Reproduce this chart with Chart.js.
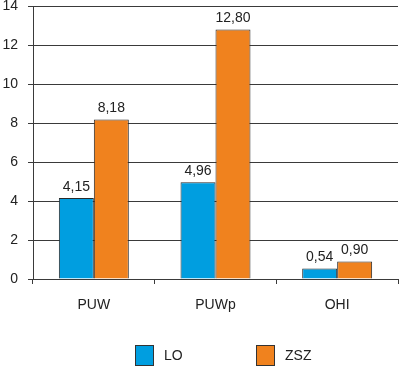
<!DOCTYPE html>
<html>
<head>
<meta charset="utf-8">
<script src="https://cdn.jsdelivr.net/npm/chart.js@4"></script>
<style>
  html, body { margin: 0; padding: 0; background: #fff; overflow: hidden; }
  #wrap { position: relative; width: 400px; height: 366px; }
  #barChart { display: block; }
  .leg { position: absolute; top: 345px; height: 20px; display: flex; align-items: center;
         font: 14px "Liberation Sans", Arial, sans-serif; color: #222; }
  .leg span.box { display: inline-block; width: 17px; height: 19px; border: 1px solid #333; margin-right: 10px; }
</style>
</head>
<body>
<div id="wrap">
  <canvas id="barChart" width="400" height="366"></canvas>
  <div class="leg" style="left:135px"><span class="box" style="background:#009EE0"></span>LO</div>
  <div class="leg" style="left:256px"><span class="box" style="background:#F0821E"></span>ZSZ</div>
</div>
<script>
// data
const categories = ['PUW', 'PUWp', 'OHI'];
const seriesNames = ['LO', 'ZSZ'];
const loValues = [4.15, 4.96, 0.54];
const zszValues = [8.18, 12.80, 0.90];
const yMax = 14;
const yStep = 2;

Chart.defaults.font.family = '"Liberation Sans", Arial, sans-serif';
Chart.defaults.font.size = 14;
Chart.defaults.color = '#222';

// horizontal grid lines, filled as 1px strips at each y tick
const plotGrid = {
    id: 'plotGrid',
    beforeDatasetsDraw(chart) {
        const { ctx, chartArea, scales } = chart;
        ctx.save();
        ctx.fillStyle = '#3a3a3a';
        scales.y.ticks.forEach(t => {
            const y = Math.round(scales.y.getPixelForValue(t.value));
            ctx.fillRect(chartArea.left, y, chartArea.right - chartArea.left, 1);
        });
        ctx.restore();
    }
};

// value labels above bars, comma decimals
const valueLabels = {
    id: 'valueLabels',
    afterDatasetsDraw(chart) {
        const ctx = chart.ctx;
        ctx.save();
        ctx.font = '14px "Liberation Sans", Arial, sans-serif';
        ctx.fillStyle = '#222';
        ctx.textAlign = 'center';
        ctx.textBaseline = 'bottom';
        chart.data.datasets.forEach((ds, i) => {
            chart.getDatasetMeta(i).data.forEach((bar, j) => {
                const txt = ds.data[j].toFixed(2).replace('.', ',');
                ctx.fillText(txt, bar.x, bar.y - 4);
            });
        });
        ctx.restore();
    }
};

new Chart(document.getElementById('barChart'), {
    type: 'bar',
    data: {
        labels: categories,
        datasets: [{
            label: seriesNames[0],
            data: loValues,
            backgroundColor: '#009EE0',
            borderColor: '#2a2a2a',
            borderWidth: 1,
        }, {
            label: seriesNames[1],
            data: zszValues,
            backgroundColor: '#F0821E',
            borderColor: '#2a2a2a',
            borderWidth: 1,
        }]
    },
    options: {
        responsive: false,
        animation: false,
        layout: { padding: { left: 2, right: 2, top: 6, bottom: 52 } },
        plugins: { legend: { display: false }, tooltip: { enabled: false } },
        datasets: { bar: { categoryPercentage: 0.575, barPercentage: 1 } },
        scales: {
            y: {
                min: 0,
                max: yMax,
                grid: { color: '#3a3a3a', lineWidth: 1, tickLength: 5 },
                border: { color: '#3a3a3a', width: 1 },
                ticks: { stepSize: yStep, padding: 10 },
                afterFit: (s) => { s.width = 31; s.paddingTop = 0; s.paddingBottom = 0; }
            },
            x: {
                grid: { offset: true, drawOnChartArea: false, color: '#3a3a3a', tickLength: 5 },
                border: { color: '#3a3a3a', width: 1 },
                ticks: { padding: 13 },
                afterFit: (s) => { s.height = 35; s.paddingLeft = 0; s.paddingRight = 0; }
            }
        }
    },
    plugins: [plotGrid, valueLabels]
});
</script>
</body>
</html>
